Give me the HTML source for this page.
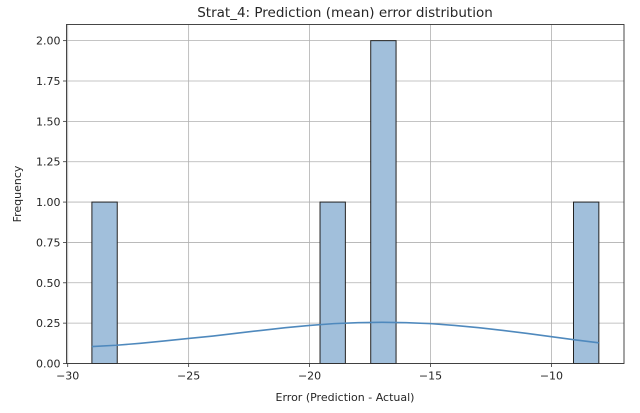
<!DOCTYPE html>
<html><head><meta charset="utf-8"><style>
body{margin:0;background:#fff;}
svg text{font-family:"DejaVu Sans","Liberation Sans",sans-serif;fill:#262626;}
</style></head><body>
<svg id="chart" width="640" height="408" xmlns="http://www.w3.org/2000/svg">
<text x="345" y="17" font-size="13.5" text-anchor="middle">Strat_4: Prediction (mean) error distribution</text>
<g id="grid"></g><g id="bars"></g><g id="kde"></g><g id="axes"></g>
<text x="345" y="401" font-size="11" text-anchor="middle">Error (Prediction - Actual)</text>
<text transform="translate(21,194) rotate(-90)" font-size="11" text-anchor="middle">Frequency</text>
</svg>
<script>
const binStart = -29.0;
const binWidth = 1.048;
const binCounts = [1,0,0,0,0,0,0,0,0,1,0,2,0,0,0,0,0,0,0,1];
const kdeX = [-29,-28,-27,-26,-25,-24,-23,-22,-21,-20,-19,-18,-17,-16,-15,-14,-13,-12,-11,-10,-9,-8.04];
const kdeY = [0.105,0.113,0.125,0.14,0.155,0.17,0.188,0.205,0.222,0.236,0.247,0.253,0.255,0.253,0.247,0.236,0.222,0.205,0.186,0.166,0.146,0.128];
const xTicks = [-30,-25,-20,-15,-10];
const xTickLabels = ["\u221230","\u221225","\u221220","\u221215","\u221210"];
const yTicks = [0,0.25,0.5,0.75,1,1.25,1.5,1.75,2];
const yTickLabels = ["0.00","0.25","0.50","0.75","1.00","1.25","1.50","1.75","2.00"];

const L=66.5,R=624,T=24.5,B=363.5;
const xmin=-30.05,xmax=-7.0,ymin=0,ymax=2.1;
const sx=v=>L+(v-xmin)/(xmax-xmin)*(R-L);
const sy=v=>B-(v-ymin)/(ymax-ymin)*(B-T);
const NS="http://www.w3.org/2000/svg";
function mk(tag,attrs,parent){const e=document.createElementNS(NS,tag);for(const k in attrs)e.setAttribute(k,attrs[k]);document.getElementById(parent).appendChild(e);return e;}

xTicks.forEach((t,i)=>{
  const g=mk('line',{x1:sx(t),x2:sx(t),y1:T,y2:B,stroke:'#b0b0b0','stroke-width':0.8},'grid');
  
  
  const tk=mk('line',{x1:sx(t),x2:sx(t),y1:B,y2:B+3.5,stroke:'#333','stroke-width':0.8},'axes');
  
  
  const tx=mk('text',{x:sx(t),y:B+16,'font-size':11,'text-anchor':'middle'},'axes');
  tx.textContent=xTickLabels[i];
  
  
});
yTicks.forEach((t,i)=>{
  const g=mk('line',{x1:L,x2:R,y1:sy(t),y2:sy(t),stroke:'#b0b0b0','stroke-width':0.8},'grid');
  
  
  const tk=mk('line',{x1:L-3.5,x2:L,y1:sy(t),y2:sy(t),stroke:'#333','stroke-width':0.8},'axes');
  
  
  const tx=mk('text',{x:L-6,y:sy(t)+4,'font-size':11,'text-anchor':'end'},'axes');
  tx.textContent=yTickLabels[i];
  
  
});
binCounts.forEach((c,i)=>{
  if(c<=0)return;
  const x0=sx(binStart+i*binWidth),x1=sx(binStart+(i+1)*binWidth);
  const r=mk('rect',{x:x0,y:sy(c),width:x1-x0,height:sy(0)-sy(c),fill:'#a1bfdb',stroke:'#222','stroke-width':1},'bars');
  
  
});
const p=mk('polyline',{points:kdeX.map((x,i)=>sx(x)+','+sy(kdeY[i])).join(' '),fill:'none',stroke:'#4f89bd','stroke-width':1.6},'kde');


const f=mk('rect',{x:L,y:T,width:R-L,height:B-T,fill:'none',stroke:'#333','stroke-width':0.9},'axes');


</script>
</body></html>
